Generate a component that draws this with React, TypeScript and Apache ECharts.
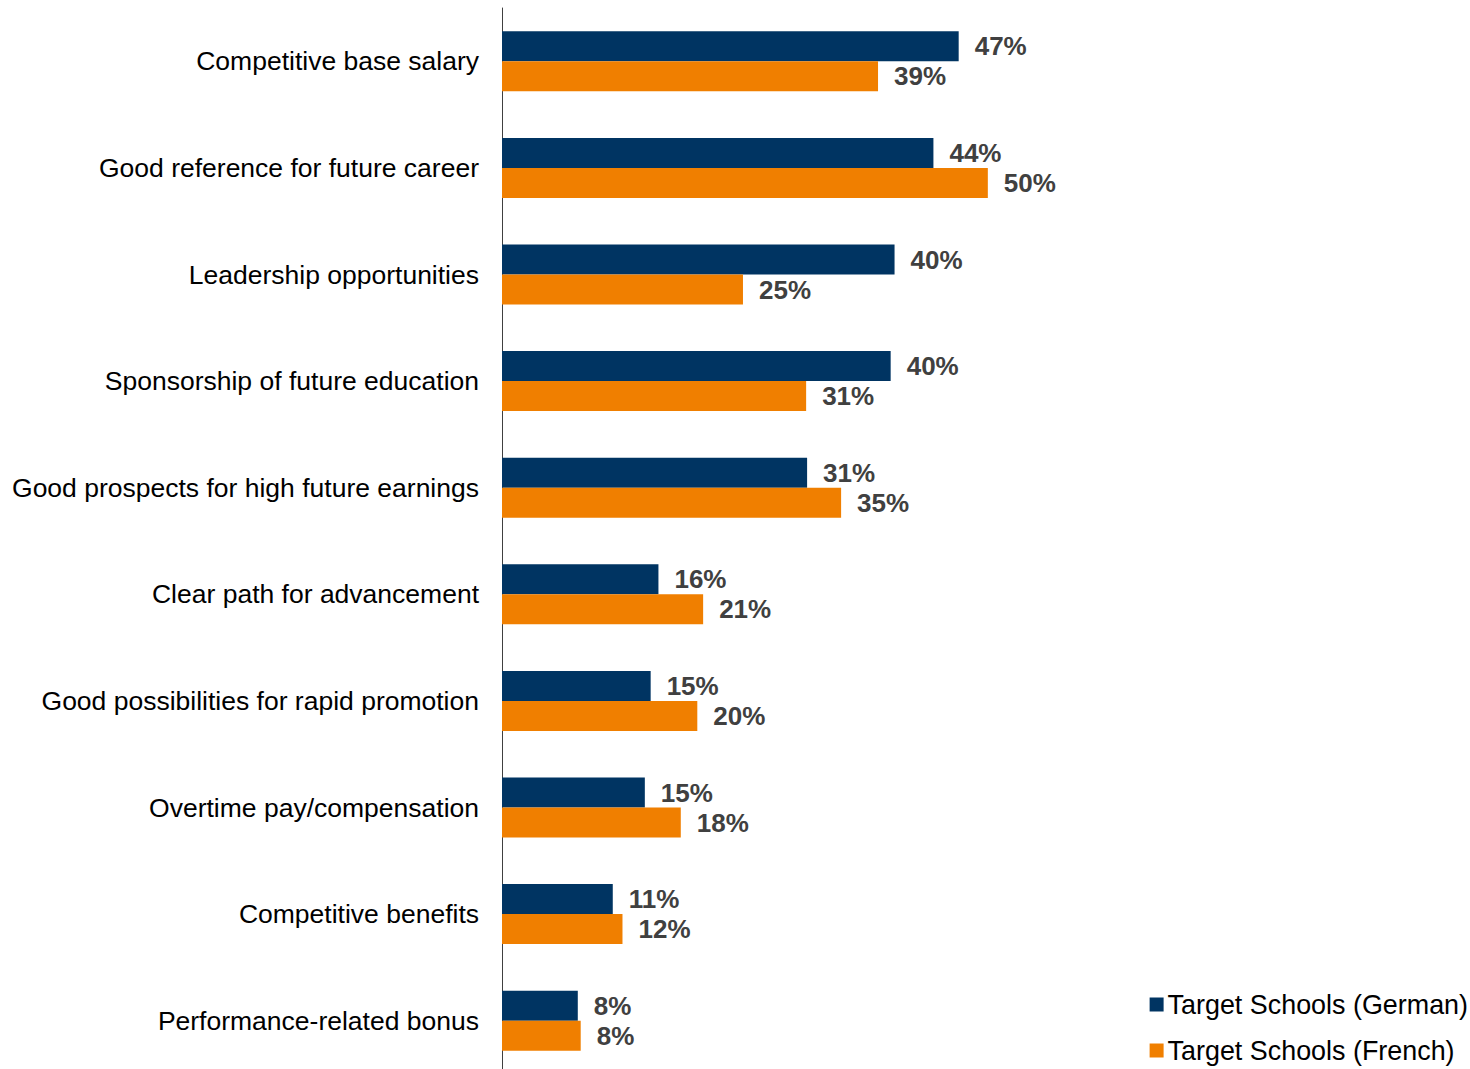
import React, { useEffect, useRef } from "react";
import * as echarts from "echarts";

const categories = [
  "Competitive base salary",
  "Good reference for future career",
  "Leadership opportunities",
  "Sponsorship of future education",
  "Good prospects for high future earnings",
  "Clear path for advancement",
  "Good possibilities for rapid promotion",
  "Overtime pay/compensation",
  "Competitive benefits",
  "Performance-related bonus",
];
const germanValues = [47.0, 44.4, 40.4, 40.0, 31.4, 16.1, 15.3, 14.7, 11.4, 7.8];
const frenchValues = [38.7, 50.0, 24.8, 31.3, 34.9, 20.7, 20.1, 18.4, 12.4, 8.1];
const seriesNames = ["Target Schools (German)", "Target Schools (French)"];

export default function App() {
  const ref = useRef<HTMLDivElement>(null);
  useEffect(() => {
    document.body.style.margin = "0";
    const chart = echarts.init(ref.current!, null, { renderer: "svg" });
    const font = "Arial, 'Liberation Sans', sans-serif";
    const labelStyle = {
      show: true,
      position: "right",
      distance: 16,
      formatter: (p: any) => Math.round(p.value) + "%",
      fontFamily: font,
      fontSize: 26,
      fontWeight: "bold",
      color: "#404040",
    };
    chart.setOption({
      animation: false,
      grid: { left: 502, width: 583, top: 8, height: 1066, containLabel: false },
      legend: {
        orient: "vertical",
        right: 2,
        top: 991,
        padding: 0,
        itemWidth: 14,
        itemHeight: 14,
        itemGap: 19,
        icon: "rect",
        textStyle: { fontFamily: font, fontSize: 26.9, color: "#000", padding: [0, 0, 0, -1] },
        data: seriesNames,
      },
      xAxis: {
        type: "value",
        min: 0,
        max: 60,
        show: false,
      },
      yAxis: {
        type: "category",
        inverse: true,
        data: categories,
        axisLine: { show: true, lineStyle: { color: "#404040", width: 1 } },
        axisTick: { show: false },
        axisLabel: { fontFamily: font, fontSize: 26.5, color: "#000", margin: 23 },
      },
      series: [
        {
          name: seriesNames[0],
          type: "bar",
          data: germanValues,
          barWidth: 30,
          barGap: "0%",
          itemStyle: { color: "#003462" },
          label: labelStyle,
        },
        {
          name: seriesNames[1],
          type: "bar",
          data: frenchValues,
          barWidth: 30,
          barGap: "0%",
          itemStyle: { color: "#F07F00" },
          label: labelStyle,
        },
      ],
    });
    return () => chart.dispose();
  }, []);
  return (
    <div style={{ position: "absolute", left: 0, top: 0, width: 1470, height: 1069, overflow: "hidden" }}>
      <div ref={ref} style={{ width: 1470, height: 1074 }} />
    </div>
  );
}
